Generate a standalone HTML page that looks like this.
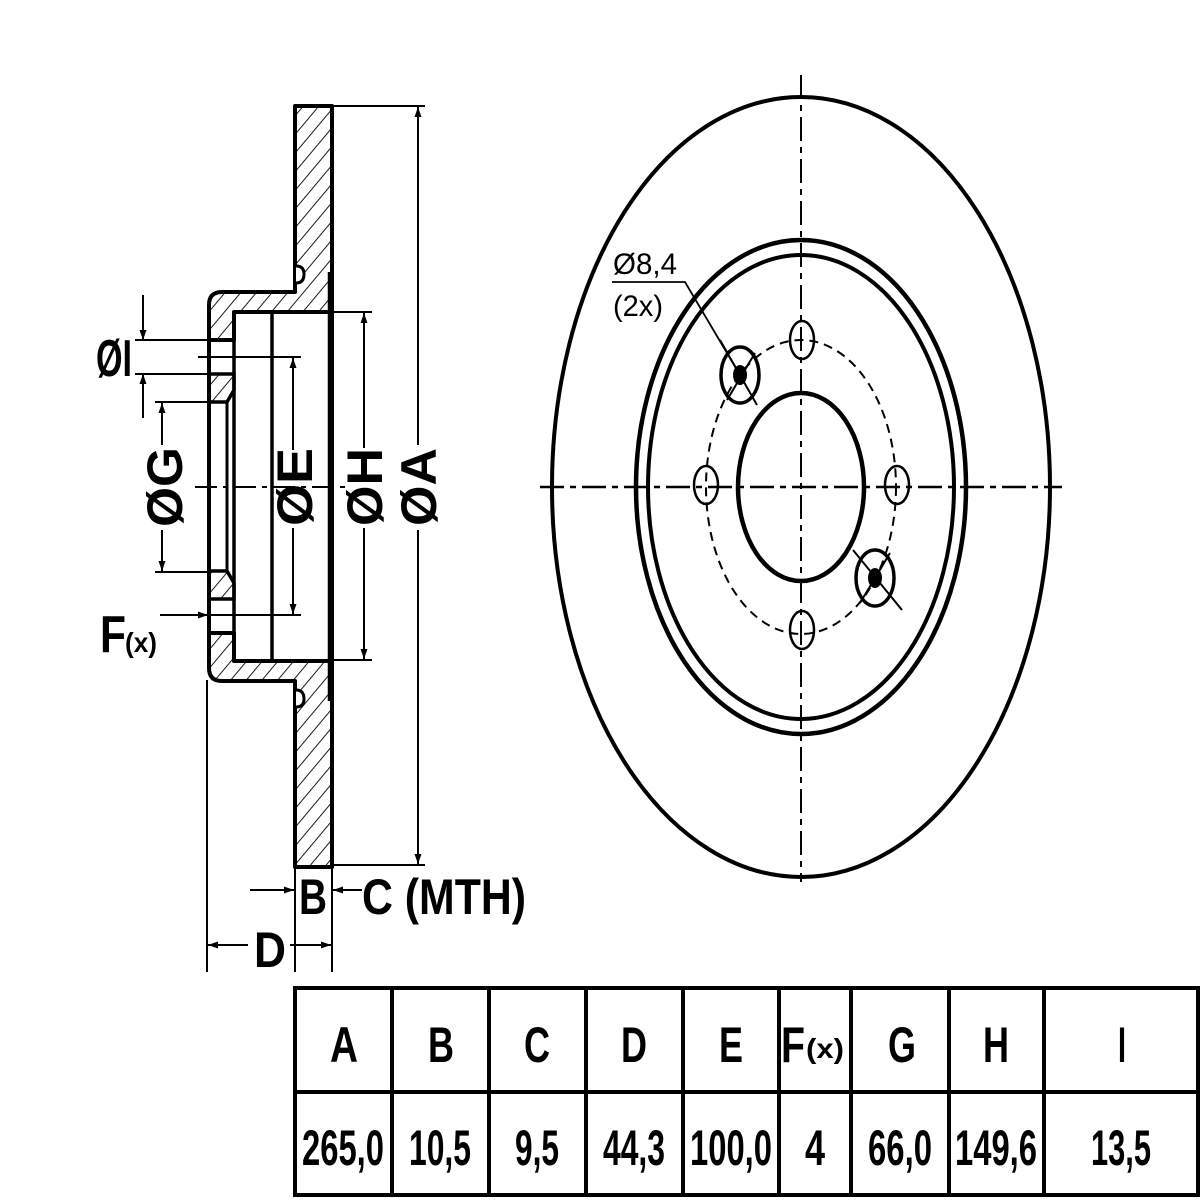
<!DOCTYPE html>
<html><head><meta charset="utf-8"><style>
html,body{margin:0;padding:0;background:#fff;}
svg{display:block;}
text{font-family:"Liberation Sans",sans-serif;font-weight:bold;fill:#000;}
</style></head><body>
<svg width="1200" height="1200" viewBox="0 0 1200 1200" xmlns="http://www.w3.org/2000/svg">
<defs>
<pattern id="h" patternUnits="userSpaceOnUse" width="12" height="12" patternTransform="rotate(40)">
<line x1="0" y1="0" x2="0" y2="12" stroke="#000" stroke-width="1.8"/>
</pattern>
<pattern id="h2" patternUnits="userSpaceOnUse" width="12" height="12" patternTransform="rotate(-40)">
<line x1="0" y1="0" x2="0" y2="12" stroke="#000" stroke-width="1.8"/>
</pattern>
<marker id="ar" viewBox="0 0 10 10" refX="10" refY="5" markerWidth="16" markerHeight="10" markerUnits="userSpaceOnUse" orient="auto"><path d="M0,1.5 L10,5 L0,8.5 Z" fill="#000"/></marker>
<g id="lines">
<line x1="209" y1="340" x2="209" y2="402" stroke="#000" stroke-width="4"/>
<line x1="234" y1="340" x2="234" y2="374" stroke="#000" stroke-width="3"/>
<line x1="227" y1="402" x2="227" y2="487" stroke="#000" stroke-width="3"/>
<line x1="209" y1="402" x2="209" y2="487" stroke="#000" stroke-width="4"/>
<line x1="234" y1="312" x2="234" y2="487" stroke="#000" stroke-width="3.5"/>
<line x1="272" y1="312" x2="272" y2="487" stroke="#000" stroke-width="3.5"/>
<line x1="329" y1="272" x2="329" y2="487" stroke="#000" stroke-width="2.5"/>
<line x1="332" y1="106" x2="332" y2="487" stroke="#000" stroke-width="4"/>
<path d="M296,266 Q304,266 304,274 Q304,283 296,283" fill="#fff" stroke="#000" stroke-width="3"/>
</g>
</defs>

<g>
<path d="M295,106 L332,106 L332,312 L234,312 L234,340 L209,340 L209,305 Q209,292 222,292 L295,292 Z" fill="url(#h)" stroke="#000" stroke-width="4" stroke-linejoin="round"/>
<path d="M209,374 L234,374 L234,390 L227,402 L209,402 Z" fill="url(#h)" stroke="#000" stroke-width="3.5"/>
<use href="#lines"/>
</g>
<g transform="translate(0,973) scale(1,-1)">
<path d="M295,106 L332,106 L332,312 L234,312 L234,340 L209,340 L209,305 Q209,292 222,292 L295,292 Z" fill="url(#h2)" stroke="#000" stroke-width="4" stroke-linejoin="round"/>
<path d="M209,374 L234,374 L234,390 L227,402 L209,402 Z" fill="url(#h2)" stroke="#000" stroke-width="3.5"/>
<use href="#lines"/>
</g>

<line x1="195" y1="487" x2="345" y2="487" stroke="#000" stroke-width="2" stroke-dasharray="22,6,5,6"/>

<g stroke="#000" stroke-width="2" fill="none">
<line x1="135" y1="340" x2="222" y2="340"/>
<line x1="135" y1="374" x2="222" y2="374"/>
<line x1="143" y1="295" x2="143" y2="340" marker-end="url(#ar)"/>
<line x1="143" y1="418" x2="143" y2="374" marker-end="url(#ar)"/>
<line x1="155" y1="402" x2="212" y2="402"/>
<line x1="155" y1="572" x2="212" y2="572"/>
<line x1="162" y1="445" x2="162" y2="403" marker-end="url(#ar)"/>
<line x1="162" y1="530" x2="162" y2="571" marker-end="url(#ar)"/>
<line x1="198" y1="357" x2="301" y2="357"/>
<line x1="160" y1="615" x2="301" y2="615"/>
<line x1="293" y1="450" x2="293" y2="358" marker-end="url(#ar)"/>
<line x1="293" y1="528" x2="293" y2="614" marker-end="url(#ar)"/>
<line x1="165" y1="615" x2="208" y2="615" marker-end="url(#ar)"/>
<line x1="332" y1="312" x2="372" y2="312"/>
<line x1="332" y1="660" x2="372" y2="660"/>
<line x1="364" y1="448" x2="364" y2="313" marker-end="url(#ar)"/>
<line x1="364" y1="528" x2="364" y2="659" marker-end="url(#ar)"/>
<line x1="332" y1="106" x2="425" y2="106"/>
<line x1="332" y1="865" x2="425" y2="865"/>
<line x1="418" y1="445" x2="418" y2="107" marker-end="url(#ar)"/>
<line x1="418" y1="530" x2="418" y2="864" marker-end="url(#ar)"/>
<line x1="295" y1="865" x2="295" y2="972"/>
<line x1="332" y1="865" x2="332" y2="972"/>
<line x1="207" y1="680" x2="207" y2="972"/>
<line x1="250" y1="890" x2="294" y2="890" marker-end="url(#ar)"/>
<line x1="362" y1="890" x2="333" y2="890" marker-end="url(#ar)"/>
<line x1="248" y1="945" x2="208" y2="945" marker-end="url(#ar)"/>
<line x1="290" y1="945" x2="331" y2="945" marker-end="url(#ar)"/>
</g>

<text x="96" y="376" font-size="52" textLength="36" lengthAdjust="spacingAndGlyphs">ØI</text>
<text x="100" y="652" font-size="52" textLength="26" lengthAdjust="spacingAndGlyphs">F</text>
<text x="125" y="652" font-size="28" textLength="32" lengthAdjust="spacingAndGlyphs">(x)</text>
<text transform="translate(182,487) rotate(-90)" text-anchor="middle" font-size="50" textLength="80" lengthAdjust="spacingAndGlyphs">ØG</text>
<text transform="translate(312,487) rotate(-90)" text-anchor="middle" font-size="50" textLength="78" lengthAdjust="spacingAndGlyphs">ØE</text>
<text transform="translate(382,487) rotate(-90)" text-anchor="middle" font-size="50" textLength="78" lengthAdjust="spacingAndGlyphs">ØH</text>
<text transform="translate(436,487) rotate(-90)" text-anchor="middle" font-size="50" textLength="78" lengthAdjust="spacingAndGlyphs">ØA</text>
<text x="299" y="914" font-size="50" textLength="28" lengthAdjust="spacingAndGlyphs">B</text>
<text x="362" y="914" font-size="50" textLength="164" lengthAdjust="spacingAndGlyphs">C (MTH)</text>
<text x="254" y="967" font-size="50" textLength="32" lengthAdjust="spacingAndGlyphs">D</text>

<g stroke="#000" fill="none">
<ellipse cx="801" cy="487" rx="249" ry="390" stroke-width="4"/>
<ellipse cx="801" cy="487" rx="165" ry="247" stroke-width="4.5"/>
<ellipse cx="801" cy="487" rx="153" ry="232" stroke-width="4"/>
<ellipse cx="801" cy="487" rx="63" ry="94" stroke-width="4.5"/>
<ellipse cx="801" cy="487" rx="95" ry="147" stroke-width="2" stroke-dasharray="9,6"/>
<line x1="540" y1="487" x2="1062" y2="487" stroke-width="2.5" stroke-dasharray="24,6,6,6"/>
<line x1="801" y1="75" x2="801" y2="882" stroke-width="2" stroke-dasharray="24,6,6,6"/>
<ellipse cx="802" cy="340" rx="12" ry="19" stroke-width="2.5"/>
<ellipse cx="802" cy="630" rx="12" ry="19" stroke-width="2.5"/>
<ellipse cx="706" cy="485" rx="12" ry="19" stroke-width="2.5"/>
<ellipse cx="897" cy="485" rx="12" ry="19" stroke-width="2.5"/>
<ellipse cx="740" cy="375" rx="19" ry="28" stroke-width="3.5"/>
<ellipse cx="875" cy="578" rx="19" ry="28" stroke-width="3.5"/>
<line x1="720" y1="340" x2="757" y2="405" stroke-width="2"/>
<line x1="727" y1="400" x2="755" y2="353" stroke-width="2"/>
<line x1="853" y1="550" x2="902" y2="610" stroke-width="2"/>
<line x1="860" y1="603" x2="890" y2="553" stroke-width="2"/>
<polyline points="612,282 685,282 740,375" stroke-width="1.8"/>
</g>
<ellipse cx="740" cy="375" rx="7" ry="10" fill="#000"/>
<ellipse cx="875" cy="578" rx="7" ry="10" fill="#000"/>
<text x="613" y="274" font-size="30" textLength="64" lengthAdjust="spacingAndGlyphs" style="font-weight:normal">Ø8,4</text>
<text x="613" y="316" font-size="30" textLength="50" lengthAdjust="spacingAndGlyphs" style="font-weight:normal">(2x)</text>

<g stroke="#000" stroke-width="4" fill="none">
<rect x="295" y="988" width="903" height="207"/>
<line x1="295" y1="1092" x2="1198" y2="1092"/>
<line x1="392" y1="988" x2="392" y2="1195"/>
<line x1="489" y1="988" x2="489" y2="1195"/>
<line x1="586" y1="988" x2="586" y2="1195"/>
<line x1="683" y1="988" x2="683" y2="1195"/>
<line x1="779" y1="988" x2="779" y2="1195"/>
<line x1="851" y1="988" x2="851" y2="1195"/>
<line x1="949" y1="988" x2="949" y2="1195"/>
<line x1="1044" y1="988" x2="1044" y2="1195"/>
</g>
<g font-size="50" text-anchor="middle">
<text x="344" y="1062" textLength="28" lengthAdjust="spacingAndGlyphs">A</text>
<text x="441" y="1062" textLength="26" lengthAdjust="spacingAndGlyphs">B</text>
<text x="537" y="1062" textLength="26" lengthAdjust="spacingAndGlyphs">C</text>
<text x="634" y="1062" textLength="26" lengthAdjust="spacingAndGlyphs">D</text>
<text x="731" y="1062" textLength="24" lengthAdjust="spacingAndGlyphs">E</text>
<text x="902" y="1062" textLength="28" lengthAdjust="spacingAndGlyphs">G</text>
<text x="996" y="1062" textLength="26" lengthAdjust="spacingAndGlyphs">H</text>
<text x="1122" y="1062" textLength="8" lengthAdjust="spacingAndGlyphs">I</text>
<text x="343" y="1165" textLength="82" lengthAdjust="spacingAndGlyphs">265,0</text>
<text x="440" y="1165" textLength="62" lengthAdjust="spacingAndGlyphs">10,5</text>
<text x="537" y="1165" textLength="44" lengthAdjust="spacingAndGlyphs">9,5</text>
<text x="634" y="1165" textLength="62" lengthAdjust="spacingAndGlyphs">44,3</text>
<text x="731" y="1165" textLength="82" lengthAdjust="spacingAndGlyphs">100,0</text>
<text x="815" y="1165" textLength="20" lengthAdjust="spacingAndGlyphs">4</text>
<text x="900" y="1165" textLength="64" lengthAdjust="spacingAndGlyphs">66,0</text>
<text x="996" y="1165" textLength="82" lengthAdjust="spacingAndGlyphs">149,6</text>
<text x="1121" y="1165" textLength="60" lengthAdjust="spacingAndGlyphs">13,5</text>
</g>
<text x="781" y="1062" font-size="50" textLength="24" lengthAdjust="spacingAndGlyphs">F</text>
<text x="806" y="1058" font-size="28" textLength="38" lengthAdjust="spacingAndGlyphs">(x)</text>
</svg>
</body></html>
